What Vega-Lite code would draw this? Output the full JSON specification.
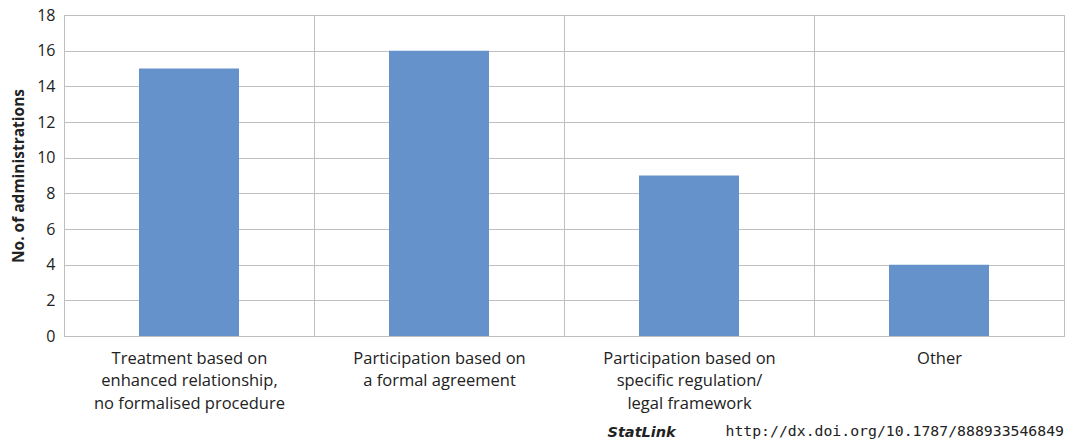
{
  "$schema": "https://vega.github.io/schema/vega-lite/v6.json",
  "width": 1000,
  "height": 321,
  "autosize": {"type": "none"},
  "padding": {"left": 64, "top": 15, "right": 1, "bottom": 103},
  "background": "white",
  "title": {
    "text": "http://dx.doi.org/10.1787/888933546849",
    "orient": "bottom",
    "anchor": "end",
    "frame": "group",
    "font": "DejaVu Sans Mono",
    "fontSize": 14.8,
    "fontWeight": "normal",
    "color": "#222222",
    "offset": -3,
    "dx": 0,
    "baseline": "alphabetic"
  },
  "data": {
    "values": [
      {"category": "Treatment based on|enhanced relationship,|no formalised procedure", "value": 15},
      {"category": "Participation based on|a formal agreement", "value": 16},
      {"category": "Participation based on|specific regulation/|legal framework", "value": 9},
      {"category": "Other", "value": 4}
    ]
  },
  "mark": {"type": "bar", "color": "#6692CC", "width": {"band": 0.4}},
  "encoding": {
    "x": {
      "field": "category",
      "type": "nominal",
      "sort": null,
      "scale": {"paddingInner": 0, "paddingOuter": 0},
      "axis": {
        "title": "StatLink",
        "titleFont": "DejaVu Sans",
        "titleFontStyle": "italic",
        "titleFontWeight": "bold",
        "titleFontSize": 14.5,
        "titleColor": "#222222",
        "titleAnchor": "start",
        "titleAlign": "left",
        "titleX": 543,
        "titleY": 100,
        "titleBaseline": "alphabetic",
        "labelAngle": 0,
        "labelExpr": "split(datum.label, '|')",
        "labelFont": "Open Sans",
        "labelFontSize": 16.5,
        "labelLimit": 300,
        "labelColor": "#222222",
        "labelLineHeight": 22.5,
        "labelPadding": 14,
        "labelBaseline": "top",
        "ticks": false,
        "grid": true,
        "tickBand": "extent",
        "gridColor": "#BFBFBF",
        "gridWidth": 1,
        "domain": true,
        "domainColor": "#BFBFBF",
        "domainWidth": 1
      }
    },
    "y": {
      "field": "value",
      "type": "quantitative",
      "scale": {"domain": [0, 18], "nice": false},
      "axis": {
        "title": "No. of administrations",
        "titleFont": "Open Sans",
        "titleFontSize": 15.5,
        "titleFontWeight": "bold",
        "titleColor": "#222222",
        "titlePadding": 10,
        "values": [0, 2, 4, 6, 8, 10, 12, 14, 16, 18],
        "labelFont": "Open Sans",
        "labelFontSize": 16,
        "labelColor": "#222222",
        "labelPadding": 9,
        "ticks": false,
        "grid": true,
        "gridColor": "#BFBFBF",
        "gridWidth": 1,
        "domain": true,
        "domainColor": "#BFBFBF"
      }
    }
  },
  "config": {
    "view": {"stroke": "#BFBFBF", "strokeWidth": 1}
  }
}
